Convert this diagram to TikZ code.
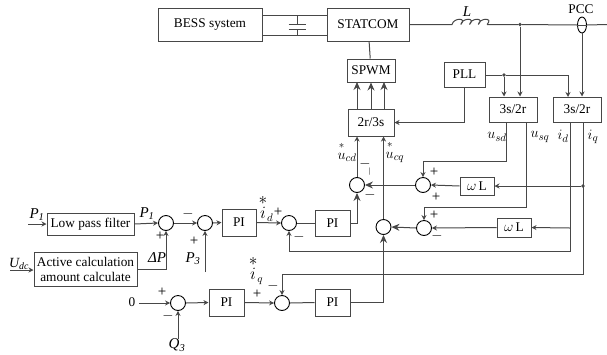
\documentclass[tikz,border=0pt]{standalone}
\usepackage[no-math]{fontspec}
\usepackage{amsmath}
\setmainfont{Liberation Serif}
\usetikzlibrary{arrows.meta,shapes.geometric}
\definecolor{ln}{gray}{0.28}
\newcommand{\ti}[1]{\text{\itshape #1}}
\newcommand{\starred}[2]{\overset{\raisebox{1.5pt}{$\scriptstyle *$}}{#1}_{#2}}
\tikzset{
  blk/.style={draw=ln,line width=1pt,inner sep=0pt,align=center,font=\fontsize{13.3}{15}\selectfont},
  sumc/.style={circle,draw=black,line width=0.9pt,minimum size=15pt,inner sep=0pt},
  wire/.style={draw=ln,line width=1pt},
  arr/.style={wire,-{Stealth[length=5pt,width=5pt]}},
  harr/.style={wire,-{Stealth[length=8pt,width=7pt]}},
  lab/.style={inner sep=0pt,font=\fontsize{15}{16}\selectfont},
  sgn/.style={inner sep=0pt,font=\fontsize{15}{16}\selectfont},
  dot/.style={circle,fill=ln,minimum size=3.6pt,inner sep=0pt}
}
\begin{document}
\begin{tikzpicture}[x=1pt,y=-1pt]
\useasboundingbox (0,0) rectangle (607,354);
% blocks
\node[blk,minimum width=104pt,minimum height=33pt] (bess) at (210,24.5) {BESS system};
\node[blk,minimum width=82pt,minimum height=33pt] (stat) at (368,24.5) {STATCOM};
\node[blk,minimum width=48pt,minimum height=23pt] (spwm) at (371,70.5) {SPWM};
\node[blk,minimum width=46pt,minimum height=27pt] (tr) at (371,122.5) {2r/3s};
\node[blk,minimum width=41pt,minimum height=25pt] (pll) at (464.5,74.5) {PLL};
\node[blk,minimum width=48pt,minimum height=25pt] (ta) at (513,109.5) {3s/2r};
\node[blk,minimum width=48pt,minimum height=25pt] (tb) at (577,109.5) {3s/2r};
\node[blk,minimum width=34pt,minimum height=18pt] (wa) at (477,186) {$\omega$\,L};
\node[blk,minimum width=34pt,minimum height=19pt] (wb) at (514,227.5) {$\omega$\,L};
\node[blk,minimum width=87pt,minimum height=22pt] (lpf) at (90.5,224) {Low pass filter};
\node[blk,minimum width=103pt,minimum height=34pt] (act) at (85.5,269) {Active calculation\\amount calculate};
\node[blk,minimum width=34pt,minimum height=27pt] (pia) at (239,222.5) {PI};
\node[blk,minimum width=35pt,minimum height=26pt] (pib) at (332.5,223) {PI};
\node[blk,minimum width=35pt,minimum height=27pt] (pic) at (226.5,302.5) {PI};
\node[blk,minimum width=35pt,minimum height=27pt] (pid) at (332.5,302.5) {PI};
% summing junctions
\node[sumc] (s1) at (166,223) {};
\node[sumc] (s2) at (205,223) {};
\node[sumc] (s3) at (289,223) {};
\node[sumc] (s4) at (178,303) {};
\node[sumc] (s5) at (282,303) {};
\node[sumc] (s6) at (357,185) {};
\node[sumc] (s7) at (383.5,227) {};
\node[sumc] (s8) at (423,185) {};
\node[sumc] (s9) at (424,228) {};
% PCC sensor
\node[ellipse,draw=black,line width=0.9pt,minimum width=9pt,minimum height=16pt,inner sep=0pt] (ct) at (582,25) {};
% free ends and junctions
\coordinate (ca) at (297,15);
\coordinate (cb) at (297,35);
\coordinate (cp1) at (297,24);
\coordinate (cp2) at (297,29);
\coordinate (ck1) at (452,24.5);
\coordinate (ck2) at (487,24.5);
\coordinate (end) at (607,24.5);
\node[dot] (d1) at (520,24.5) {};
\node[dot] (d2) at (504,75) {};
\node[dot] (d3) at (583,186) {};
\coordinate (jb) at (570,228);
% DC link
\draw[wire] (bess.east |- ca) -- (stat.west |- ca);
\draw[wire] (bess.east |- cb) -- (stat.west |- cb);
\draw[wire] (ca) -- (cp1);
\draw[wire] (cb) -- (cp2);
\draw[wire] ([xshift=-8.5pt]cp1) -- ([xshift=8.5pt]cp1);
\draw[wire] ([xshift=-8.5pt]cp2) -- ([xshift=8.5pt]cp2);
% AC line
\draw[wire] (stat.east |- ck1) -- (ck1)
  .. controls +(1.5,-7) and +(7,-7) .. +(8.75,0)
  .. controls +(1.5,-7) and +(7,-7) .. +(17.5,0)
  .. controls +(1.5,-7) and +(7,-7) .. +(26.25,0)
  .. controls +(1.5,-7) and +(7,-7) .. (ck2);
\draw[wire] (ck2) -- (d1) -- (ct.west);
\draw[wire] (ct.east) -- (end);
\draw[wire] (ct.west) -- (ct.east);
\draw[arr] (d1) -- (d1 |- ta.north);
\draw[arr] (ct.south) -- (ct.south |- tb.north);
\draw[wire] (stat) -- (spwm);
% gate arrows
\draw[harr] (357,109) -- (357,82);
\draw[harr] (tr.north) -- (spwm.south);
\draw[harr] (384,109) -- (384,82);
% PLL
\draw[arr] (pll.east |- d2) -- (d2) -- (568,75) -- (568,97);
\draw[arr] (d2) -- (d2 |- ta.north);
\draw[arr] (pll.south) |- (tr.east);
% feedback
\draw[arr] (506,122) -- (506,161) -- (423,161) -- (s8.north);
\draw[arr] (526,122) -- (526,207) -- (424,207) -- (s9.north);
\draw[arr] (570,122) -- (570,251) -- (289,251) -- (s3.south);
\draw[arr] (583,122) -- (583,274) -- (282,274) -- (s5.north);
\draw[arr] (d3) -- (wa.east);
\draw[arr] (jb) -- (wb.east);
\draw[arr] (wa.west) -- (s8.east);
\draw[arr] (wb.west) -- (s9.east);
\draw[harr] (s8.west) -- (s6.east);
\draw[harr] (s9.west) -- (s7.east);
\draw[arr] (s6.north) -- (s6.north |- tr.south);
\draw[arr] (s7.north) -- (s7.north |- tr.south);
\draw[harr] (pib.east) -| (s6.south);
\draw[harr] (pid.east) -| (s7.south);
% left side
\coordinate (p1in) at (28,224);
\coordinate (udin) at (10,270);
\coordinate (p3in) at (205,272);
\coordinate (q3in) at (178,339);
\coordinate (zin) at (139,303);
\draw[arr] (p1in) -- (lpf.west);
\draw[arr] (udin) -- (udin -| act.west);
\draw[arr] (lpf.east) -- (s1.west);
\draw[arr] (act.east) -| (s1.south);
\draw[arr] (s1.east) -- (s2.west);
\draw[arr] (p3in) -- (s2.south);
\draw[arr] (s2.east) -- (pia.west);
\draw[arr] (pia.east) -- (s3.west);
\draw[wire] (s3.east) -- (pib.west);
\draw[arr] (zin) -- (s4.west);
\draw[arr] (q3in) -- (s4.south);
\draw[arr] (s4.east) -- (pic.west);
\draw[arr] (pic.east) -- (s5.west);
\draw[wire] (s5.east) -- (pid.west);
% labels
\node[lab] (lL) at (467,12) {\ti{L}};
\node[lab,font=\fontsize{13.3}{15}\selectfont] (lpcc) at (581,9) {PCC};
\node[lab] (lucd) at (347,152) {$\starred{u}{cd}$};
\node[lab] (lucq) at (395,152) {$\starred{u}{cq}$};
\node[lab] (lusd) at (497,137) {$u_{sd}$};
\node[lab] (lusq) at (540,137) {$u_{sq}$};
\node[lab] (lid) at (563,136) {$i_d$};
\node[lab] (liq) at (593,137) {$i_q$};
\node[lab] (lp1a) at (37,215) {$\ti{P}_{\ti{1}}$};
\node[lab] (lp1b) at (147,214) {$\ti{P}_{\ti{1}}$};
\node[lab,font=\fontsize{14}{15}\selectfont] (ludc) at (19,264) {$\ti{U}_{\ti{dc}}$};
\node[lab] (ldp) at (157,258) {\ti{ΔP}};
\node[lab] (lp3) at (193,259) {$\ti{P}_{\ti{3}}$};
\node[lab] (lq3) at (177,345) {$\ti{Q}_{\ti{3}}$};
\node[lab,font=\fontsize{16}{17}\selectfont] (lid2) at (266,208) {$\overset{\displaystyle *}{i}_d$};
\node[lab,font=\fontsize{16}{17}\selectfont] (liq2) at (256,270) {$\overset{\displaystyle *}{i}_q$};
\node[lab,font=\fontsize{13.3}{15}\selectfont] (lz) at (132,302) {0};
% signs
\node[sgn] (g1) at (160,236) {+};
\node[sgn] (g2) at (188,214) {$-$};
\node[sgn] (g3) at (194,241) {+};
\node[sgn] (g4) at (278,212) {+};
\node[sgn] (g5) at (299,237) {$-$};
\node[sgn] (g6) at (162,292) {+};
\node[sgn] (g7) at (168,316) {$-$};
\node[sgn] (g8) at (257,294) {+};
\node[sgn] (g9) at (273,286) {$-$};
\node[sgn] (g10) at (365,164) {$-$};
\node[sgn] (g11) at (370,172) {\fontsize{8}{8}\selectfont |};
\node[sgn] (g12) at (370,195) {$-$};
\node[sgn] (g13) at (434,172) {+};
\node[sgn] (g14) at (436,197) {+};
\node[sgn] (g15) at (434,215) {+};
\node[sgn] (g16) at (437,236) {$-$};
\end{tikzpicture}
\end{document}
